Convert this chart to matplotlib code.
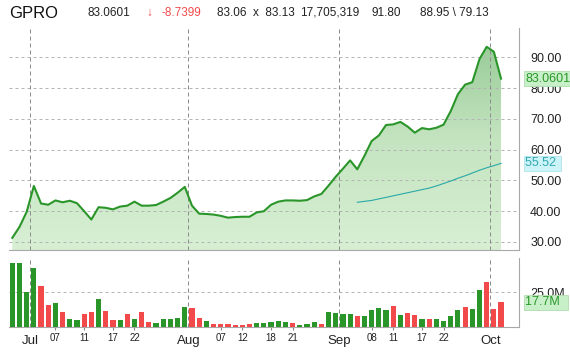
import numpy as np
import pandas as pd
import matplotlib
matplotlib.use('Agg')
import matplotlib.pyplot as plt
from matplotlib.patches import Polygon
from matplotlib.colors import LinearSegmentedColormap
import matplotlib.transforms as mtransforms

plt.rcParams['font.family'] = ['Liberation Sans', 'DejaVu Sans']

# trading days, GPRO from IPO (Jun 26 2014) to Oct 2 2014
dates = pd.bdate_range('2014-06-26', '2014-10-02')
dates = dates[~dates.isin(pd.to_datetime(['2014-07-04', '2014-09-01']))]

closes = [31.34, 34.9, 39.8, 48.2, 42.5, 42.1, 43.5, 42.9, 43.4, 42.6,
          40.0, 37.3, 41.3, 41.1, 40.6, 41.5, 41.8, 43.1, 41.8, 41.8,
          42.0, 43.1, 44.3, 46.0, 47.9, 41.8, 39.2, 39.1, 38.9, 38.5,
          37.9, 38.1, 38.2, 38.2, 39.6, 40.0, 42.1, 43.1, 43.5, 43.5,
          43.4, 43.6, 44.8, 45.6, 48.3, 51.2, 53.8, 56.5, 53.6, 58.0,
          62.8, 64.6, 68.0, 68.2, 69.0, 67.5, 65.5, 67.0, 66.6, 67.1,
          68.1, 72.5, 78.0, 81.1, 81.9, 89.4, 93.4, 91.80, 83.06]

# volume in millions
volumes = [45.7, 45.7, 25.2, 42.1, 29.3, 15.7, 17.4, 10.7, 5.7, 5.0,
           9.3, 10.7, 20.2, 11.7, 5.0, 5.0, 9.3, 5.7, 10.7, 3.6,
           2.9, 5.7, 5.7, 6.4, 14.5, 13.6, 6.4, 4.5, 2.1, 2.1,
           2.1, 1.4, 1.6, 2.1, 3.1, 3.1, 3.8, 4.5, 3.8, 2.9,
           1.4, 2.1, 3.6, 2.1, 10.5, 10.0, 9.3, 9.3, 7.9, 7.9,
           12.1, 13.6, 12.1, 15.0, 8.6, 10.0, 8.6, 5.7, 5.7, 5.7,
           4.5, 7.9, 12.1, 14.3, 12.9, 26.4, 32.1, 12.9, 17.7]

# 1 = up day (green), 0 = down day (red)
up = [1, 1, 1, 1, 0, 0, 1, 0, 1, 1, 0, 0, 1, 0, 0, 1, 0, 1, 0, 0,
      1, 1, 1, 1, 1, 0, 0, 1, 0, 0, 0, 0, 0, 0, 1, 1, 1, 1, 1, 0,
      1, 1, 1, 0, 1, 1, 1, 1, 0, 1, 1, 1, 1, 0, 1, 0, 0, 1, 0, 1,
      1, 1, 1, 0, 1, 1, 0, 0, 0]

ma_start = 48
ma_vals = [42.9, 43.2, 43.5, 44.0, 44.5, 45.0, 45.5, 46.0, 46.5, 47.0, 47.5,
           48.2, 49.0, 49.8, 50.7, 51.5, 52.4, 53.3, 54.1, 54.8, 55.52]

day_ticks = ['2014-07-07', '2014-07-11', '2014-07-17', '2014-07-22',
             '2014-08-07', '2014-08-12', '2014-08-18', '2014-08-21',
             '2014-09-08', '2014-09-11', '2014-09-17', '2014-09-22']
months = ['Jul', 'Aug', 'Sep', 'Oct']

GREEN = '#2a962a'
RED = '#f24a4a'
TEAL = '#2aa8a8'

x = np.arange(len(closes))
xlim = (-0.46, 70.5)
ylim = (27.4, 99.5)

fig = plt.figure(figsize=(5.7, 3.52), dpi=100)
ax = fig.add_axes([9/570, 102/352, 510/570, 222/352])
axv = fig.add_axes([9/570, 25/352, 510/570, 69/352])

# gradient area under price
verts = np.column_stack([np.r_[x, x[::-1]], np.r_[closes, np.full(len(x), ylim[0])]])
patch = Polygon(verts, closed=True, facecolor='none', edgecolor='none')
ax.add_patch(patch)
cmap = LinearSegmentedColormap.from_list('g', ['#d8efd4', '#c4e4c0', '#92c892'])
grad = np.linspace(0, 1, 256).reshape(-1, 1)
im = ax.imshow(grad, extent=[xlim[0], xlim[1], ylim[0], ylim[1]], origin='lower',
               aspect='auto', cmap=cmap, zorder=1)
im.set_clip_path(patch)

for v in range(30, 100, 10):
    ax.axhline(v, color='#b4b4b4', lw=0.72, ls=(0, (3, 3)), zorder=2)
axv.axhline(25, color='#b4b4b4', lw=0.72, ls=(0, (3, 3)), zorder=0)

# month boundaries
first_idx = [int(np.argmax(dates.month == m)) for m in [7, 8, 9, 10]]
for a in (ax, axv):
    for fi in first_idx:
        a.axvline(fi - 0.5, color='#8c8c8c', lw=0.72, ls=(0, (4, 3)), zorder=2)

ax.plot(x, closes, color=GREEN, lw=1.5, zorder=4, solid_joinstyle='round')
ax.plot(x[ma_start:ma_start + len(ma_vals)], ma_vals, color=TEAL, lw=0.8, zorder=3)

bar_colors = [GREEN if u else RED for u in up]
axv.bar(x, volumes, width=0.72, color=bar_colors, zorder=3)

for a in (ax, axv):
    a.set_xlim(*xlim)
    a.spines['top'].set_visible(False)
    a.spines['left'].set_visible(False)
    a.spines['bottom'].set_color('#a8a8a8')
    a.spines['right'].set_color('#a8a8a8')
    a.yaxis.tick_right()
    a.tick_params(axis='y', length=0, pad=8, labelsize=9, labelcolor='#222222')

ax.set_ylim(*ylim)
ax.set_yticks(range(30, 100, 10))
ax.set_yticklabels([f'{v:.2f}' for v in range(30, 100, 10)])
ax.set_xticks([])

axv.set_ylim(0, 49.3)
axv.set_yticks([25])
axv.set_yticklabels(['25.0M'])

tick_idx = [int(np.where(dates == pd.Timestamp(d))[0][0]) for d in day_ticks]
axv.set_xticks(tick_idx)
axv.set_xticklabels([pd.Timestamp(d).strftime('%d') for d in day_ticks])
axv.tick_params(axis='x', length=2, pad=2, labelsize=7, color='#888888', labelcolor='#222222')

trv = mtransforms.blended_transform_factory(axv.transData, axv.transAxes)
for fi, m in zip(first_idx, months):
    axv.text(fi - 0.5, -0.115, m, transform=trv, ha='center', va='top', fontsize=9.5, color='#222222')

# value boxes on the right axis
tra = mtransforms.blended_transform_factory(ax.transAxes, ax.transData)
ax.text(1.012, closes[-1], '83.0601', transform=tra, ha='left', va='center', fontsize=9,
        color='#2a962a', bbox=dict(boxstyle='square,pad=0.12', fc='#c8f0c8', ec='#b0dcb0', lw=0.6), zorder=6)
ax.text(1.012, ma_vals[-1], '55.52 ', transform=tra, ha='left', va='center', fontsize=9,
        color='#30a8b0', bbox=dict(boxstyle='square,pad=0.12', fc='#ccf4f8', ec='#b0e4ec', lw=0.6), zorder=6)
trb = mtransforms.blended_transform_factory(axv.transAxes, axv.transData)
axv.text(1.012, volumes[-1], '17.7M  ', transform=trb, ha='left', va='center', fontsize=9,
         color='#2a962a', bbox=dict(boxstyle='square,pad=0.12', fc='#c8f0c8', ec='#b0dcb0', lw=0.6), zorder=6)

# header line
hy = 1 - 12.5/352
fig.text(9/570, 1 - 13/352, 'GPRO', fontsize=12, va='center', ha='left', color='#111111')
header = [(88, '83.0601', '#222222'), (146, '\u2193', RED), (162, '-8.7399', RED),
          (217, '83.06  x  83.13', '#222222'), (300, '17,705,319', '#222222'),
          (372, '91.80', '#222222'), (420, '88.95 \\ 79.13', '#222222')]
for px, s, c in header:
    fig.text(px/570, hy, s, fontsize=8.5, va='center', ha='left', color=c)

fig.savefig('out.png', dpi=100)
